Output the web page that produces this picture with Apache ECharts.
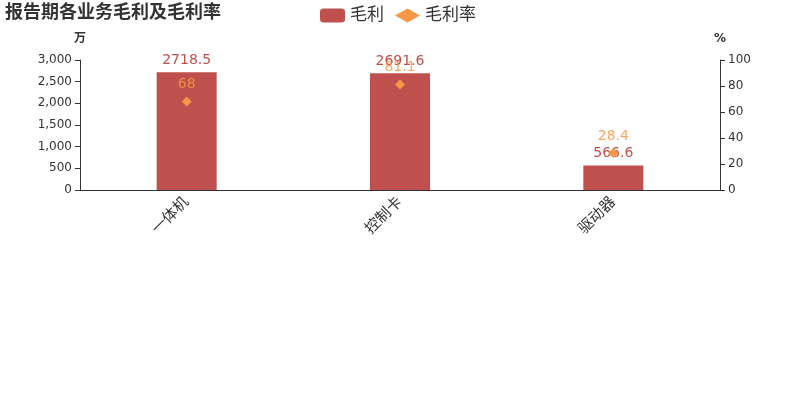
<!DOCTYPE html>
<html><head><meta charset="utf-8">
<script src="https://cdn.jsdelivr.net/npm/echarts@6/dist/echarts.min.js"></script>
<style>html,body{margin:0;padding:0;background:#fff}#c{width:800px;height:400px}</style>
</head><body><div id="c"></div>
<script>
var categories = ['一体机', '控制卡', '驱动器'];
var grossProfit = [2718.5, 2691.6, 566.6];
var grossMargin = [68, 81.1, 28.4];
var title = '报告期各业务毛利及毛利率';

var FONT = '"DejaVu Sans", "Noto Sans CJK SC", sans-serif';
var chart = echarts.init(document.getElementById('c'));
chart.setOption({
  animation: false,
  textStyle: { fontFamily: FONT },
  title: { text: title, left: 5, top: 3, padding: [1, 0, 0, 0],
    textStyle: { fontSize: 18, fontWeight: 'bold', color: '#333', fontFamily: FONT } },
  legend: {
    left: 315, top: 2, itemWidth: 25, itemHeight: 14, itemGap: 11,
    textStyle: { fontSize: 17, color: '#333', fontFamily: FONT },
    data: [{ name: '毛利', icon: 'roundRect' }, { name: '毛利率', icon: 'diamond' }]
  },
  grid: { left: 80, right: 80, top: 60, bottom: 210 },
  xAxis: {
    type: 'category', data: categories,
    axisLine: { lineStyle: { color: '#333' } },
    axisTick: { lineStyle: { color: '#333' } },
    axisLabel: { rotate: 45, color: '#333', fontSize: 15, margin: 10, fontFamily: FONT }
  },
  yAxis: [{
    type: 'value', name: '万', min: 0, max: 3000, interval: 500,
    nameTextStyle: { fontWeight: 'bold', color: '#333', fontSize: 12, fontFamily: FONT },
    axisLine: { show: true, lineStyle: { color: '#333' } },
    axisTick: { show: true },
    splitLine: { show: false },
    axisLabel: { color: '#333', fontSize: 12, fontFamily: FONT }
  }, {
    type: 'value', name: '%', min: 0, max: 100, interval: 20,
    nameTextStyle: { fontWeight: 'bold', color: '#333', fontSize: 12, fontFamily: FONT },
    axisLine: { show: true, lineStyle: { color: '#333' } },
    axisTick: { show: true },
    splitLine: { show: false },
    axisLabel: { color: '#333', fontSize: 12, fontFamily: FONT }
  }],
  series: [{
    name: '毛利', type: 'bar', data: grossProfit, barWidth: 60,
    itemStyle: { color: '#c0504d' },
    label: { show: true, position: 'top', color: '#c0504d', fontSize: 14, fontFamily: FONT }
  }, {
    name: '毛利率', type: 'line', yAxisIndex: 1, data: grossMargin,
    symbol: 'diamond', symbolSize: 10,
    lineStyle: { width: 0 },
    itemStyle: { color: '#f79646' },
    label: { show: true, position: 'top', color: '#f79646', fontSize: 14, opacity: 0.85, distance: 5, fontFamily: FONT }
  }]
});
</script></body></html>
